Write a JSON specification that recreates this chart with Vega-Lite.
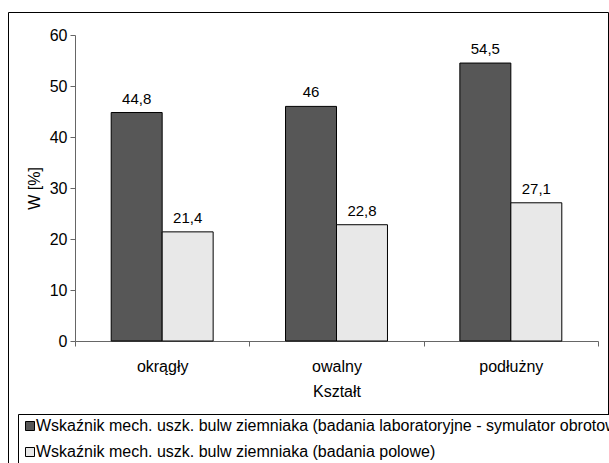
{
  "$schema": "https://vega.github.io/schema/vega-lite/v6.json",
  "autosize": {"type": "none"},
  "padding": {"left": 8, "top": 12, "right": 1, "bottom": -4},
  "width": 600,
  "height": 455,
  "background": "white",
  "config": {
    "font": "Liberation Sans",
    "locale": {"number": {"decimal": ",", "thousands": " ", "grouping": [3], "currency": ["", " zł"]}},
    "view": {"stroke": "black", "strokeWidth": 1},
    "axis": {
      "domainColor": "#666666",
      "tickColor": "#666666",
      "labelColor": "black",
      "titleColor": "black",
      "labelFontSize": 16,
      "titleFontSize": 16,
      "titleFontWeight": "normal",
      "grid": false,
      "tickSize": 5
    }
  },
  "data": {
    "values": [
      {"ksztalt": "okrągły", "seria": "Wskaźnik mech. uszk. bulw ziemniaka (badania laboratoryjne - symulator obrotowy)", "W": 44.8},
      {"ksztalt": "okrągły", "seria": "Wskaźnik mech. uszk. bulw ziemniaka (badania polowe)", "W": 21.4},
      {"ksztalt": "owalny", "seria": "Wskaźnik mech. uszk. bulw ziemniaka (badania laboratoryjne - symulator obrotowy)", "W": 46},
      {"ksztalt": "owalny", "seria": "Wskaźnik mech. uszk. bulw ziemniaka (badania polowe)", "W": 22.8},
      {"ksztalt": "podłużny", "seria": "Wskaźnik mech. uszk. bulw ziemniaka (badania laboratoryjne - symulator obrotowy)", "W": 54.5},
      {"ksztalt": "podłużny", "seria": "Wskaźnik mech. uszk. bulw ziemniaka (badania polowe)", "W": 27.1}
    ]
  },
  "encoding": {
    "x": {
      "field": "ksztalt",
      "type": "nominal",
      "sort": ["okrągły", "owalny", "podłużny"],
      "scale": {"range": [67, 590], "paddingInner": 0, "paddingOuter": 0},
      "axis": {"title": "Kształt", "labelAngle": 0, "tickBand": "extent", "offset": -126, "labelPadding": 12, "titlePadding": 9}
    },
    "xOffset": {
      "field": "seria",
      "type": "nominal",
      "sort": [
        "Wskaźnik mech. uszk. bulw ziemniaka (badania laboratoryjne - symulator obrotowy)",
        "Wskaźnik mech. uszk. bulw ziemniaka (badania polowe)"
      ],
      "scale": {"paddingInner": 0, "paddingOuter": 0.71}
    },
    "y": {
      "field": "W",
      "type": "quantitative",
      "scale": {"domain": [0, 60], "range": [329, 23], "nice": false},
      "axis": {"title": "W [%]", "values": [0, 10, 20, 30, 40, 50, 60], "offset": -67, "labelPadding": 3, "titlePadding": 7}
    }
  },
  "layer": [
    {
      "mark": {"type": "bar", "stroke": "black", "strokeWidth": 1},
      "encoding": {
        "fill": {
          "field": "seria",
          "type": "nominal",
          "sort": [
            "Wskaźnik mech. uszk. bulw ziemniaka (badania laboratoryjne - symulator obrotowy)",
            "Wskaźnik mech. uszk. bulw ziemniaka (badania polowe)"
          ],
          "scale": {"range": ["#575757", "#e8e8e8"]},
          "legend": {
            "title": null,
            "orient": "none",
            "legendX": 10,
            "legendY": 402,
            "direction": "vertical",
            "strokeColor": "black",
            "fillColor": "white",
            "padding": 4,
            "rowPadding": 10,
            "symbolType": "square",
            "symbolSize": 81,
            "symbolStrokeColor": "black",
            "symbolStrokeWidth": 1,
            "labelFontSize": 16,
            "labelLimit": 1000,
            "labelOffset": -2,
            "labelColor": "black"
          }
        }
      }
    },
    {
      "mark": {"type": "text", "baseline": "bottom", "dy": -6, "fontSize": 15, "color": "black"},
      "encoding": {
        "text": {"field": "W", "type": "quantitative", "format": ".1~f"}
      }
    }
  ]
}
